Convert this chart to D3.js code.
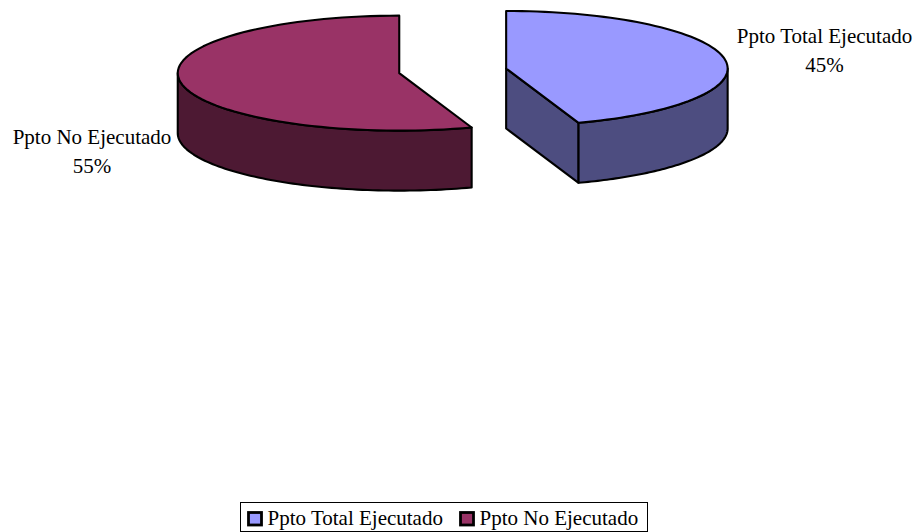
<!DOCTYPE html>
<html><head><meta charset="utf-8">
<script src="https://cdn.jsdelivr.net/npm/d3@7/dist/d3.min.js"></script>
<style>html,body{margin:0;padding:0;background:#fff}svg{display:block}text{font-family:"Liberation Serif",serif;font-size:21px;fill:#000}</style>
</head><body><svg width="915" height="532"></svg>
<script>
const categories = ["Ppto Total Ejecutado", "Ppto No Ejecutado"];
const values = [44.7, 55.3];
const percentLabels = ["45%", "55%"];
const topColors = ["#9999FF", "#993366"];
const sideColors = ["#4D4D80", "#4D1933"];

const svg = d3.select("svg");
const rx = 221.5, ry = 57.5, depth = 60, explode = 54.2;
const cx0 = 452.7, cy0 = 70.8;
const pie = d3.pie().sort(null).value(d => d);
const arcs = pie(values);
const line = d3.line();
const px = (a, o) => [o.x + rx * Math.sin(a), o.y - ry * Math.cos(a)];
const samples = (a0, a1) => d3.range(0, 81).map(i => a0 + (a1 - a0) * i / 80);

const slices = arcs.map((a, i) => {
  const mid = (a.startAngle + a.endAngle) / 2;
  return { i, a, c: { x: cx0 + explode * Math.sin(mid), y: cy0 - explode * Math.cos(mid) * ry / rx } };
});
const style = s => s.attr("stroke", "#000").attr("stroke-width", 2.1).attr("stroke-linejoin", "round");
const down = p => [p[0], p[1] + depth];

slices.forEach(s => {
  const g = svg.append("g");
  const o = s.c, a0 = s.a.startAngle, a1 = s.a.endAngle;
  // exposed cut face of the first slice
  if (s.i === 0) {
    const c = [o.x, o.y], e = px(a1, o);
    g.append("path").attr("d", line([c, e, down(e), down(c)]) + "Z").attr("fill", sideColors[s.i]).call(style);
  }
  // outer wall: the part of the rim on the front half
  const w0 = Math.max(a0, Math.PI / 2), w1 = Math.min(a1, 3 * Math.PI / 2);
  const rim = samples(w0, w1).map(a => px(a, o));
  g.append("path").attr("d", line(rim.concat(rim.map(down).reverse())) + "Z").attr("fill", sideColors[s.i]).call(style);
  // top face
  const top = [[o.x, o.y]].concat(samples(a0, a1).map(a => px(a, o)));
  g.append("path").attr("d", line(top) + "Z").attr("fill", topColors[s.i]).call(style);
});

const labelPos = [{ x: 824.5, y: 43 }, { x: 92, y: 144 }];
categories.forEach((c, i) => {
  const t = svg.append("text").attr("text-anchor", "middle");
  t.append("tspan").attr("x", labelPos[i].x).attr("y", labelPos[i].y).text(c);
  t.append("tspan").attr("x", labelPos[i].x).attr("y", labelPos[i].y + 29).text(percentLabels[i]);
});

// legend
svg.append("rect").attr("x", 240.5).attr("y", 502.5).attr("width", 407).attr("height", 29)
  .attr("fill", "#fff").attr("stroke", "#000").attr("stroke-width", 1);
const legendX = [248.5, 460.5];
categories.forEach((c, i) => {
  svg.append("rect").attr("x", legendX[i]).attr("y", 512.5).attr("width", 13).attr("height", 12.5)
    .attr("fill", topColors[i]).attr("stroke", "#000").attr("stroke-width", 2.8);
  svg.append("text").attr("x", legendX[i] + 19).attr("y", 525).text(c);
});
</script></body></html>
